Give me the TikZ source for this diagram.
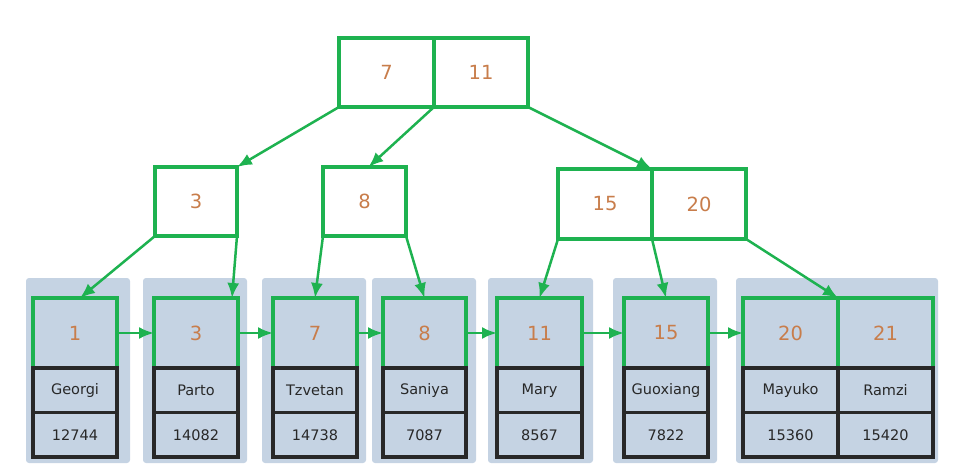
\documentclass[tikz,border=0pt]{standalone}
\usepackage{fontspec}
\setmainfont{DejaVu Sans}
\usetikzlibrary{calc,arrows.meta}

\definecolor{bgreen}{RGB}{30,178,80}
\definecolor{korange}{RGB}{200,125,75}
\definecolor{leafbg}{RGB}{197,211,227}
\definecolor{rowgray}{RGB}{40,40,40}

\tikzset{
  keybox/.style={draw=bgreen, line width=4pt, inner sep=0pt, outer sep=0pt,
    text=korange, font=\fontsize{19.5}{19.5}\selectfont},
  rowbox/.style={draw=rowgray, line width=3.5pt, inner sep=0pt, outer sep=0pt,
    minimum height=44.5pt, text=rowgray, font=\fontsize{14.5}{14.5}\selectfont},
  link/.style={draw=bgreen, line width=2.5pt, -{Latex[length=15pt,width=12pt]}},
}

\begin{document}
\begin{tikzpicture}[x=1pt, y=-1pt]
    \useasboundingbox (0,0) rectangle (966,469);
    % leaf pages
    \foreach \a/\b in {26/130, 143/247, 262/366, 372/476, 488/593, 613/717, 736/938}
      \fill [leafbg, rounded corners=3pt] (\a,278) rectangle (\b,463);
    % root
    \node [keybox, minimum width=95pt, minimum height=69pt] (t7) at (386.5,72.5) {7};
    \node [keybox, minimum width=94pt, minimum height=69pt] (t11) at (481,72.5) {11};
    % inner nodes
    \node [keybox, minimum width=82pt, minimum height=69pt] (m3) at (196,201.5) {3};
    \node [keybox, minimum width=83pt, minimum height=69pt] (m8) at (364.5,201.5) {8};
    \node [keybox, minimum width=94pt, minimum height=70pt] (m15) at (605,204) {15};
    \node [keybox, minimum width=94pt, minimum height=70pt] (m20) at (699,204) {20};
    % leaves
    \foreach \i/\x/\w/\k/\name/\num in {1/75/84/1/Georgi/12744, 2/196/84/3/Parto/14082,
        3/315/84/7/Tzvetan/14738, 4/424.5/83/8/Saniya/7087, 5/539.5/85/11/Mary/8567,
        6/666/84/15/Guoxiang/7822, 7/790.5/95/20/Mayuko/15360, 8/885.5/95/21/Ramzi/15420}
    {
      \node [keybox, minimum width=\w pt, minimum height=70pt] (l\i) at (\x,333) {\k};
      \node [rowbox, minimum width=\w pt] (n\i) at (\x,390.25) {\name};
      \node [rowbox, minimum width=\w pt] (v\i) at (\x,434.75) {\num};
    }
      \draw [link] (t7.south west)
        -- (m3.north east);
      \draw [link] (t7.south east)
        -- ([xshift=4pt]m8.north);
      \draw [link] (t11.south east)
        -- (m15.north east);
      \draw [link] (m3.south west)
        -- ([xshift=5pt]l1.north);
      \draw [link] (m3.south east)
        -- ([xshift=-6pt]l2.north east);
      \draw [link] (m8.south west)
        -- (l3.north);
      \draw [link] (m8.south east)
        -- (l4.north);
      \draw [link] (m15.south west)
        -- (l5.north);
      \draw [link] (m15.south east)
        -- (l6.north);
      \draw [link] (m20.south east)
        -- (l7.north east);
    \foreach \a/\b in {1/2, 2/3, 3/4, 4/5, 5/6, 6/7}
      \draw [link] (l\a.east) -- (l\b.west);
\end{tikzpicture}
\end{document}
